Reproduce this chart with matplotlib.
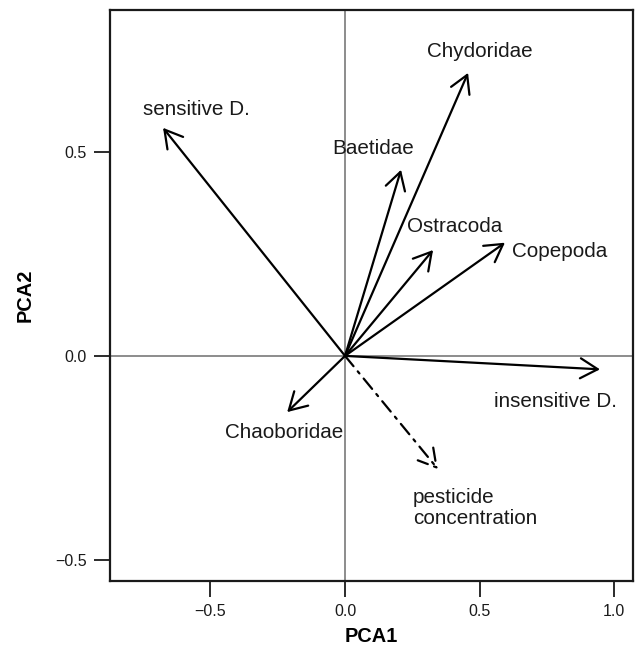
import matplotlib
matplotlib.use("Agg")
import matplotlib.pyplot as plt

plt.rcParams['font.family'] = ['Liberation Sans', 'DejaVu Sans']

# PCA loadings (arrow tips)
taxa = ["sensitive D.", "Chydoridae", "Baetidae", "Ostracoda",
        "Copepoda", "insensitive D.", "Chaoboridae"]
pca1 = [-0.676, 0.457, 0.208, 0.327, 0.594, 0.947, -0.215]
pca2 = [0.560, 0.695, 0.457, 0.260, 0.278, -0.033, -0.138]

# supplementary variable (dash-dot arrow)
env_name = "pesticide\nconcentration"
env_pca1 = 0.345
env_pca2 = -0.278

xticks = [-0.5, 0.0, 0.5, 1.0]
yticks = [-0.5, 0.0, 0.5]

# where the labels sit (layout only)
label_pos = {
    "sensitive D.": (-0.553, 0.604),
    "Chydoridae": (0.501, 0.747),
    "Baetidae": (0.104, 0.509),
    "Ostracoda": (0.408, 0.317),
    "Copepoda": (0.798, 0.256),
    "insensitive D.": (0.780, -0.113),
    "Chaoboridae": (-0.227, -0.189),
}

fig = plt.figure(figsize=(6.36, 6.5), dpi=100)
ax = fig.add_axes([0.173, 0.106, 0.822, 0.879])

ax.set_xlim(-0.873, 1.069)
ax.set_ylim(-0.553, 0.850)

# reference lines through origin
ax.axhline(0, color="#6e6e6e", lw=1.1, zorder=1)
ax.axvline(0, color="#6e6e6e", lw=1.1, zorder=1)

arrow = dict(arrowstyle="->,head_length=1.25,head_width=0.72",
             color="black", lw=1.6, shrinkA=0, shrinkB=0,
             mutation_scale=10)

for name, x, y in zip(taxa, pca1, pca2):
    ax.annotate("", xy=(x, y), xytext=(0, 0), arrowprops=arrow, zorder=3)
    lx, ly = label_pos[name]
    ax.text(lx, ly, name, ha="center", va="center", fontsize=14.9,
            color="#1a1a1a")

env_arrow = dict(arrow)
env_arrow["linestyle"] = (0, (6, 3, 1.2, 3))
ax.annotate("", xy=(env_pca1, env_pca2), xytext=(0, 0),
            arrowprops=env_arrow, zorder=3)
ax.text(0.252, -0.373, env_name, ha="left", va="center", fontsize=14.9,
        color="#1a1a1a", linespacing=1.1)

ax.set_xticks(xticks)
ax.set_yticks(yticks)
ax.set_xticklabels(["\u22120.5", "0.0", "0.5", "1.0"])
ax.set_yticklabels(["\u22120.5", "0.0", "0.5"])
ax.tick_params(direction="out", length=11.5, width=1.3, labelsize=11.5,
               pad=5, colors="#1a1a1a")

for s in ax.spines.values():
    s.set_linewidth(1.6)
    s.set_color("#1a1a1a")

ax.set_xlabel("PCA1", fontsize=14.4, fontweight="bold", labelpad=6)
ax.set_ylabel("PCA2", fontsize=14.4, fontweight="bold", labelpad=15)

fig.savefig("out.png", dpi=100)
